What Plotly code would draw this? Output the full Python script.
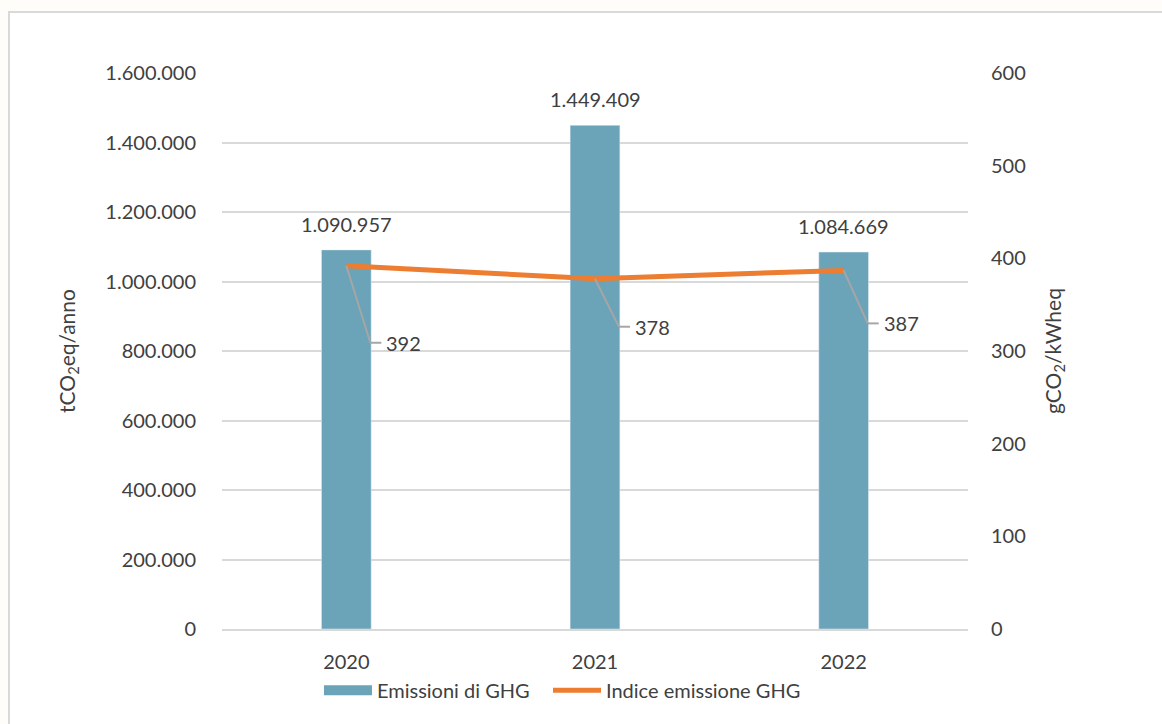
import plotly.graph_objects as go

years = ["2020", "2021", "2022"]
emissioni = [1090957, 1449409, 1084669]
indice = [392, 378, 387]

left_ticks = [0, 200000, 400000, 600000, 800000, 1000000, 1200000, 1400000, 1600000]
right_ticks = [0, 100, 200, 300, 400, 500, 600]

BAR = "#6BA3B8"
LINE = "#ED7D31"
TXT = "#404040"
GRID = "#D9D9D9"
FONT = "Lato"

def it_fmt(v):
    return f"{v:,}".replace(",", ".")

xs = list(range(len(years)))

fig = go.Figure()
fig.add_trace(go.Bar(x=xs, y=emissioni, name="Emissioni di GHG",
                     marker_color=BAR, width=0.2, yaxis="y", showlegend=False))
fig.add_trace(go.Scatter(x=xs, y=indice, name="Indice emissione GHG",
                         mode="lines", line=dict(color=LINE, width=5), yaxis="y2",
                         showlegend=False))
# legend entries
fig.add_trace(go.Scatter(x=[None], y=[None], name="Emissioni di GHG", mode="lines",
                         line=dict(color=BAR, width=14), yaxis="y", legend="legend"))
fig.add_trace(go.Scatter(x=[None], y=[None], name="Indice emissione GHG", mode="lines",
                         line=dict(color=LINE, width=5), yaxis="y2", legend="legend2"))

ann = []
shapes = []
for i, v in enumerate(emissioni):
    ann.append(dict(x=i, y=v, xref="x", yref="y", text=it_fmt(v), showarrow=False,
                    yanchor="bottom", yshift=12, font=dict(size=20, color=TXT, family=FONT)))

offs = [(24, -77), (24, -48), (24, -53)]
for i, v in enumerate(indice):
    dx, dy = offs[i]
    shapes.append(dict(type="line", xref="x", yref="y2", xsizemode="pixel", ysizemode="pixel",
                       xanchor=i, yanchor=v, x0=0, y0=0, x1=dx, y1=dy,
                       line=dict(color="#A6A6A6", width=2)))
    shapes.append(dict(type="line", xref="x", yref="y2", xsizemode="pixel", ysizemode="pixel",
                       xanchor=i, yanchor=v, x0=dx, y0=dy, x1=dx + 11, y1=dy,
                       line=dict(color="#A6A6A6", width=2)))
    ann.append(dict(x=i, y=v, xref="x", yref="y2", text=str(v), showarrow=False,
                    xanchor="left", yanchor="middle", xshift=dx + 14, yshift=dy,
                    font=dict(size=20, color=TXT, family=FONT)))

# outer frame
shapes.append(dict(type="rect", xref="paper", yref="paper", x0=(9 - 222) / 746, x1=1.4,
                   y0=-0.4, y1=(629 - 12) / 556, fillcolor="white",
                   line=dict(color=GRID, width=2), layer="below"))

leg_common = dict(orientation="h", xanchor="left", y=-0.11, yanchor="middle",
                  font=dict(size=20, color=TXT), bgcolor="rgba(0,0,0,0)", itemwidth=48)

fig.update_layout(
    width=1162, height=724,
    margin=dict(l=222, r=194, t=73, b=95),
    paper_bgcolor="#FFFDFA", plot_bgcolor="rgba(0,0,0,0)",
    separators=",.",
    font=dict(family=FONT, color=TXT, size=20),
    xaxis=dict(range=[-0.5, 2.5], tickvals=xs, ticktext=years, showgrid=False,
               zeroline=False, showline=True, linecolor=GRID, linewidth=1.5,
               ticks="", tickfont=dict(size=20, color=TXT), ticklabelstandoff=14),
    yaxis=dict(range=[0, 1600000], tickvals=left_ticks, tickformat=",d",
               gridcolor=GRID, gridwidth=1.5, zeroline=False, showline=False,
               tickfont=dict(size=20, color=TXT), ticklabelstandoff=25,
               title=dict(text="tCO<sub>2</sub>eq/anno", font=dict(size=21, color=TXT), standoff=24)),
    yaxis2=dict(range=[0, 600], tickvals=right_ticks, overlaying="y", side="right",
                showgrid=False, zeroline=False, showline=False,
                tickfont=dict(size=20, color=TXT), ticklabelstandoff=22,
                title=dict(text="gCO<sub>2</sub>/kWheq", font=dict(size=21, color=TXT), standoff=21)),
    legend=dict(x=0.130, **leg_common),
    legend2=dict(x=0.437, **leg_common),
    annotations=ann,
    shapes=shapes,
)

fig.write_html("out.html")
